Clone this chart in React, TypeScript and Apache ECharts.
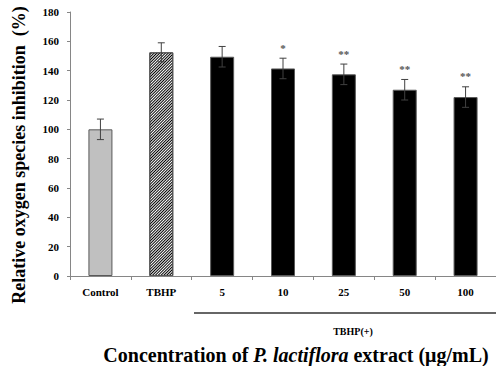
import React, { useEffect, useRef } from "react";
import * as echarts from "echarts";

const categories = ["Control", "TBHP", "5", "10", "25", "50", "100"];
const values = [100, 152.5, 149.5, 141.5, 137.5, 127, 122];
const errors = [7, 6.5, 7, 7, 7, 7, 7];
const stars = ["", "", "", "*", "**", "**", "**"];
const yTicks = [0, 20, 40, 60, 80, 100, 120, 140, 160, 180];

const serif = '"Liberation Serif", "Times New Roman", serif';

export default function App() {
  const ref = useRef<HTMLDivElement>(null);
  useEffect(() => {
    if (!ref.current) return;
    const chart = echarts.init(ref.current, null, { renderer: "svg" });
    const barData = values.map((v, i) => {
      if (i === 0) return { value: v, itemStyle: { color: "#c0c0c0" } };
      if (i === 1)
        return {
          value: v,
          itemStyle: {
            color: "#ffffff",
            decal: {
              symbol: "rect",
              symbolSize: 1,
              dashArrayX: [1, 0],
              dashArrayY: [1, 1],
              rotation: -Math.PI / 4,
              color: "#000000",
            },
          },
        };
      return { value: v, itemStyle: { color: "#000000" } };
    });
    chart.setOption({
      animation: false,
      grid: { left: 70, right: 0, top: 12, bottom: 90, containLabel: false },
      xAxis: {
        type: "category",
        data: categories,
        boundaryGap: true,
        axisLine: { lineStyle: { color: "#868686", width: 1 } },
        axisTick: { show: true, length: 4, lineStyle: { color: "#868686" } },
        axisLabel: {
          color: "#000",
          fontFamily: serif,
          fontWeight: "bold",
          fontSize: 11,
          margin: 10,
        },
      },
      yAxis: {
        type: "value",
        min: yTicks[0],
        max: yTicks[yTicks.length - 1],
        interval: 20,
        splitLine: { show: false },
        axisLine: { show: true, lineStyle: { color: "#868686", width: 1 } },
        axisTick: { show: true, length: 3, lineStyle: { color: "#868686" } },
        axisLabel: {
          color: "#000",
          fontFamily: serif,
          fontWeight: "bold",
          fontSize: 11,
          margin: 11,
        },
      },
      series: [
        {
          type: "bar",
          data: barData,
          barWidth: 24,
          itemStyle: { borderColor: "#595959", borderWidth: 1 },
        },
        {
          type: "custom",
          data: values.map((v, i) => [i, v, errors[i]]),
          renderItem: (params: any, api: any) => {
            const i = api.value(0);
            const v = api.value(1);
            const e = api.value(2);
            const s = stars[i];
            const top = api.coord([i, v + e]);
            const bot = api.coord([i, v - e]);
            const x = top[0];
            const children: any[] = [
              { type: "line", shape: { x1: x, y1: top[1], x2: x, y2: bot[1] }, style: { stroke: "#404040", lineWidth: 1 } },
              { type: "line", shape: { x1: x - 3.5, y1: top[1], x2: x + 3.5, y2: top[1] }, style: { stroke: "#404040", lineWidth: 1 } },
              { type: "line", shape: { x1: x - 3.5, y1: bot[1], x2: x + 3.5, y2: bot[1] }, style: { stroke: "#404040", lineWidth: 1 } },
            ];
            if (s) {
              children.push({
                type: "text",
                x: x,
                y: top[1] - 5,
                style: {
                  text: s,
                  fill: "#555",
                  font: "bold 11px " + serif,
                  align: "center",
                  verticalAlign: "bottom",
                },
              });
            }
            return { type: "group", children };
          },
          z: 5,
        },
      ],
      graphic: [
        {
          type: "text",
          x: 19,
          y: 155,
          rotation: Math.PI / 2,
          style: {
            text: "Relative oxygen species inhibition  (%)",
            font: "bold 18px " + serif,
            fill: "#000",
            align: "center",
            verticalAlign: "middle",
          },
        },
        { type: "line", shape: { x1: 194, y1: 313, x2: 496, y2: 313 }, style: { stroke: "#333", lineWidth: 1.5 } },
        {
          type: "text",
          x: 353,
          y: 331,
          style: { text: "TBHP(+)", font: "bold 10px " + serif, fill: "#000", align: "center", verticalAlign: "middle" },
        },
        {
          type: "text",
          x: 296,
          y: 355,
          style: {
            rich: {
              n: { font: "bold 20px " + serif, fill: "#000" },
              i: { font: "italic bold 20px " + serif, fill: "#000" },
            },
            text: "{n|Concentration of }{i|P. lactiflora}{n| extract (μg/mL)}",
            align: "center",
            verticalAlign: "middle",
          },
        },
      ],
    });
    return () => chart.dispose();
  }, []);
  return (
    <div
      ref={ref}
      style={{ position: "absolute", left: 0, top: 0, width: 496, height: 366 }}
    />
  );
}
